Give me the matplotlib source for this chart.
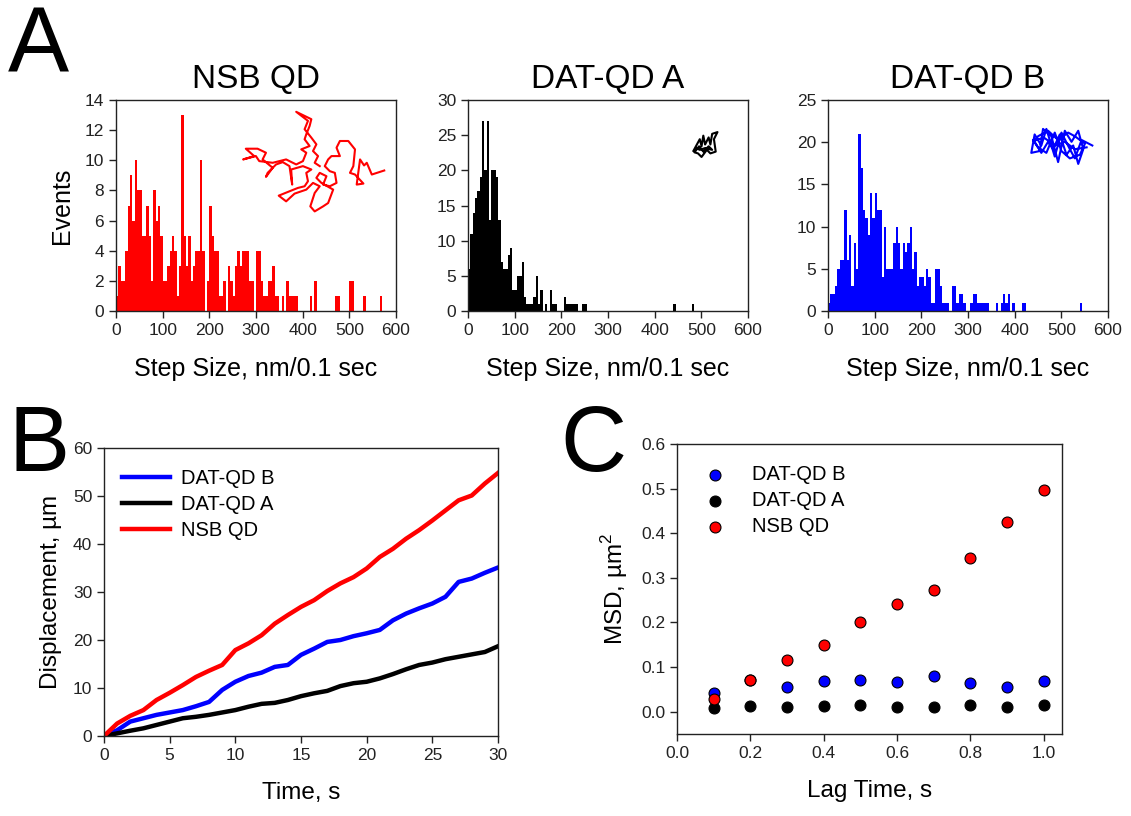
import numpy as np
import matplotlib.pyplot as plt

plt.rcParams['font.family'] = ['Liberation Sans', 'DejaVu Sans']
plt.rcParams['mathtext.fontset'] = 'custom'
plt.rcParams['mathtext.rm'] = 'Liberation Sans'
plt.rcParams['axes.linewidth'] = 1.0

# --- panel A: step size histograms, 5 nm bins from 0 to 600 nm ---
bin_edges = np.arange(0, 605, 5)

nsb_counts = [
    1, 3, 2, 2, 4, 7, 9, 6, 10, 8, 8, 5, 5, 7, 5, 2, 8, 6, 7, 5,
    2, 2, 3, 4, 5, 4, 1, 3, 13, 5, 3, 5, 2, 3, 4, 4, 10, 4, 0, 2,
    7, 5, 4, 4, 1, 1, 2, 0, 3, 2, 1, 3, 4, 3, 4, 4, 4, 2, 2, 0,
    4, 4, 2, 1, 1, 2, 2, 3, 1, 1, 0, 1, 0, 2, 1, 1, 1, 1, 0, 0,
    0, 0, 0, 1, 0, 2, 0, 0, 0, 0, 0, 0, 0, 0, 1, 1, 0, 0, 0, 0,
    2, 2, 0, 0, 0, 0, 1, 0, 0, 0, 0, 0, 0, 1, 0, 0, 0, 0, 0, 0,
]
dat_a_counts = [
    6, 11, 14, 16, 17, 19, 27, 20, 27, 13, 20, 20, 19, 13, 7, 6, 6, 8, 9, 3,
    3, 5, 5, 7, 2, 1, 1, 1, 2, 5, 1, 3, 0, 1, 0, 3, 1, 1, 0, 0,
    0, 2, 1, 1, 1, 1, 1, 0, 0, 1, 1, 0, 0, 0, 0, 0, 0, 0, 0, 0,
    0, 0, 0, 0, 0, 0, 0, 0, 0, 0, 0, 0, 0, 0, 0, 0, 0, 0, 0, 0,
    0, 0, 0, 0, 0, 0, 0, 0, 1, 0, 0, 0, 0, 0, 0, 0, 1, 0, 0, 0,
    0, 0, 0, 0, 0, 0, 0, 0, 0, 0, 0, 0, 0, 0, 0, 0, 0, 0, 0, 0,
]
dat_b_counts = [
    1, 2, 2, 3, 5, 6, 6, 12, 6, 9, 3, 8, 5, 21, 17, 12, 11, 9, 14, 11,
    14, 12, 12, 4, 10, 5, 5, 5, 8, 10, 8, 5, 8, 7, 8, 10, 5, 7, 3, 4,
    4, 3, 5, 4, 1, 1, 5, 5, 3, 1, 1, 1, 0, 3, 3, 1, 2, 2, 1, 0,
    0, 1, 2, 2, 1, 1, 1, 1, 1, 0, 0, 0, 1, 0, 1, 2, 1, 2, 0, 1,
    0, 0, 0, 1, 1, 0, 0, 0, 0, 0, 0, 0, 0, 0, 0, 0, 0, 0, 0, 0,
    0, 0, 0, 0, 0, 0, 0, 0, 1, 0, 0, 0, 0, 0, 0, 0, 0, 0, 0, 0,
]

# trajectory insets (traced, arbitrary units, y pointing down)
nsb_track_x = [432, 395, 380, 372, 360, 350, 370, 345, 330, 340, 345, 325, 300, 290, 300, 275,
               265, 255, 270, 285, 290, 270, 250, 260, 240, 230, 245, 280, 265, 250, 225, 212,
               225, 240, 220, 200, 165, 140, 118, 150, 175, 195, 205, 200, 215, 190, 155, 158,
               150, 130, 110, 85, 80, 100, 70, 80, 55, 20, 45, 12, 50, 60, 100, 140, 170, 190,
               200, 185, 210, 195, 200, 210, 215, 170, 205, 195, 215, 230, 220, 235, 225, 240]
nsb_track_y = [193, 205, 170, 178, 160, 235, 232, 205, 200, 180, 130, 105, 105, 125, 150, 150,
               160, 180, 195, 200, 230, 240, 235, 210, 200, 215, 230, 250, 290, 300, 315, 300,
               260, 240, 230, 250, 262, 285, 268, 255, 245, 240, 225, 200, 190, 180, 190, 235,
               180, 168, 175, 200, 212, 185, 160, 140, 128, 128, 150, 160, 150, 165, 170, 160,
               175, 165, 140, 130, 120, 100, 85, 60, 40, 18, 45, 70, 95, 115, 135, 150, 170, 180]
dat_a_track_x = [852, 870, 875, 880, 885, 895, 900, 905, 920, 910, 915, 900, 890, 875, 865, 855,
                 868, 880, 895, 905, 885, 870, 860]
dat_a_track_y = [208, 175, 195, 165, 190, 170, 190, 160, 155, 175, 210, 215, 205, 225, 215, 212,
                 195, 210, 195, 205, 200, 205, 200]
dat_b_track_x = [412, 380, 360, 345, 320, 300, 275, 260, 240, 230, 255, 265, 290, 310, 330, 350,
                 370, 385, 370, 355, 335, 315, 295, 280, 260, 240, 250, 280, 310, 340, 360, 390,
                 375, 345, 320, 300, 275, 250, 235, 270, 300, 330, 360, 395]
dat_b_track_y = [140, 125, 175, 150, 105, 170, 95, 140, 110, 160, 155, 95, 115, 185, 100, 130,
                 100, 150, 190, 140, 165, 110, 150, 130, 160, 130, 115, 100, 125, 105, 115, 135,
                 165, 175, 155, 105, 160, 145, 125, 120, 140, 130, 150, 145]

# --- panel B: cumulative displacement ---
time_s = list(range(0, 31))
disp_nsb = [0, 2.6, 4.2, 5.4, 7.5, 9.0, 10.6, 12.3, 13.6, 14.8, 17.9, 19.3, 21.0, 23.4, 25.2, 26.9,
            28.3, 30.2, 31.8, 33.1, 34.9, 37.3, 39.0, 41.1, 42.9, 44.9, 47.0, 49.1, 50.1, 52.6, 54.8]
disp_b = [0, 1.2, 3.0, 3.7, 4.4, 4.9, 5.4, 6.2, 7.1, 9.6, 11.3, 12.5, 13.2, 14.4, 14.8, 16.9,
          18.2, 19.6, 20.0, 20.8, 21.4, 22.1, 24.1, 25.5, 26.6, 27.6, 29.0, 32.1, 32.8, 34.0, 35.1]
disp_a = [0, 0.55, 1.1, 1.6, 2.3, 3.0, 3.7, 4.0, 4.4, 4.9, 5.4, 6.1, 6.7, 6.9, 7.5, 8.3,
          8.9, 9.4, 10.4, 11.0, 11.3, 12.0, 12.9, 13.9, 14.8, 15.3, 16.0, 16.5, 17.0, 17.5, 18.7]

# --- panel C: MSD ---
lag_s = [0.1, 0.2, 0.3, 0.4, 0.5, 0.6, 0.7, 0.8, 0.9, 1.0]
msd_b = [0.041, 0.070, 0.056, 0.069, 0.070, 0.066, 0.079, 0.064, 0.056, 0.069]
msd_a = [0.009, 0.013, 0.010, 0.013, 0.014, 0.011, 0.011, 0.014, 0.011, 0.014]
msd_nsb = [0.028, 0.071, 0.116, 0.149, 0.200, 0.242, 0.272, 0.345, 0.426, 0.497]

W, H = 1131, 816
fig = plt.figure(figsize=(W / 100, H / 100), dpi=100)


def px_axes(left, top, right, bottom):
    return fig.add_axes([left / W, 1 - bottom / H, (right - left) / W, (bottom - top) / H])


def style(ax):
    ax.tick_params(direction='out', length=5, width=1, labelsize=12.5, colors='#222222',
                   labelcolor='#222222')
    for s in ax.spines.values():
        s.set_color('#222222')


hists = [
    (116, nsb_counts, 'red', 'NSB QD', 14, 2, nsb_track_x, nsb_track_y, [0.454, 0.472, 0.504, 0.472]),
    (468, dat_a_counts, 'black', 'DAT-QD A', 30, 5, dat_a_track_x, dat_a_track_y, [0.805, 0.730, 0.086, 0.118]),
    (828, dat_b_counts, 'blue', 'DAT-QD B', 25, 5, dat_b_track_x, dat_b_track_y, [0.726, 0.697, 0.218, 0.166]),
]
for i, (left, counts, col, title, ymax, ystep, tx, ty, ibox) in enumerate(hists):
    ax = px_axes(left, 100, left + 280, 311)
    ax.stairs(counts, bin_edges, fill=True, color=col, linewidth=0)
    ax.set_xlim(0, 600)
    ax.set_ylim(0, ymax)
    ax.set_xticks(range(0, 601, 100))
    ax.set_yticks(range(0, ymax + 1, ystep))
    style(ax)
    ax.set_title(title, fontsize=24, pad=9)
    ax.set_xlabel('Step Size, nm/0.1 sec', fontsize=18, labelpad=14)
    if i == 0:
        ax.set_ylabel('Events', fontsize=18, labelpad=8)
    ins = ax.inset_axes(ibox)
    ins.plot(tx, [-v for v in ty], color=col, lw=1.5, clip_on=False)
    ins.set_xlim(min(tx), max(tx))
    ins.set_ylim(-max(ty), -min(ty))
    ins.set_xticks([])
    ins.set_yticks([])
    ins.axis('off')

# panel B
axb = px_axes(104, 448, 498, 736)
axb.plot(time_s, disp_b, color='blue', lw=3.2, label='DAT-QD B')
axb.plot(time_s, disp_a, color='black', lw=3.2, label='DAT-QD A')
axb.plot(time_s, disp_nsb, color='red', lw=3.2, label='NSB QD')
axb.set_xlim(0, 30)
axb.set_ylim(0, 60)
axb.set_xticks(range(0, 31, 5))
axb.set_yticks(range(0, 61, 10))
style(axb)
axb.set_xlabel('Time, s', fontsize=17.5, labelpad=14)
axb.set_ylabel('Displacement, µm', fontsize=17.5, labelpad=8)
axb.legend(loc='upper left', frameon=False, fontsize=14.5, handlelength=2.4,
           handletextpad=0.5, labelspacing=0.35, bbox_to_anchor=(0.0, 0.99))

# panel C
axc = px_axes(677, 444, 1062, 734)
mk = dict(s=62, edgecolors='black', linewidths=0.8, zorder=3)
axc.scatter(lag_s, msd_b, color='blue', label='DAT-QD B', **mk)
axc.scatter(lag_s, msd_a, color='black', label='DAT-QD A', **mk)
axc.scatter(lag_s, msd_nsb, color='red', label='NSB QD', **mk)
axc.set_xlim(0, 1.05)
axc.set_ylim(-0.05, 0.6)
axc.set_xticks(np.arange(0, 1.01, 0.2))
axc.set_yticks(np.arange(0, 0.61, 0.1))
axc.xaxis.set_major_formatter('{x:.1f}')
axc.yaxis.set_major_formatter('{x:.1f}')
style(axc)
axc.set_xlabel('Lag Time, s', fontsize=17.5, labelpad=14)
axc.set_ylabel(r'MSD, µm$^\mathregular{2}$', fontsize=17.5, labelpad=8)
axc.legend(loc='upper left', frameon=False, fontsize=14.5, handletextpad=0.8,
           labelspacing=0.35, bbox_to_anchor=(0.0, 0.99))

fig.text(8 / W, 1 - 6 / H, 'A', fontsize=66, va='top', ha='left')
fig.text(8 / W, 1 - 404 / H, 'B', fontsize=66, va='top', ha='left')
fig.text(560 / W, 1 - 404 / H, 'C', fontsize=66, va='top', ha='left')

fig.savefig('out.png', dpi=100)
